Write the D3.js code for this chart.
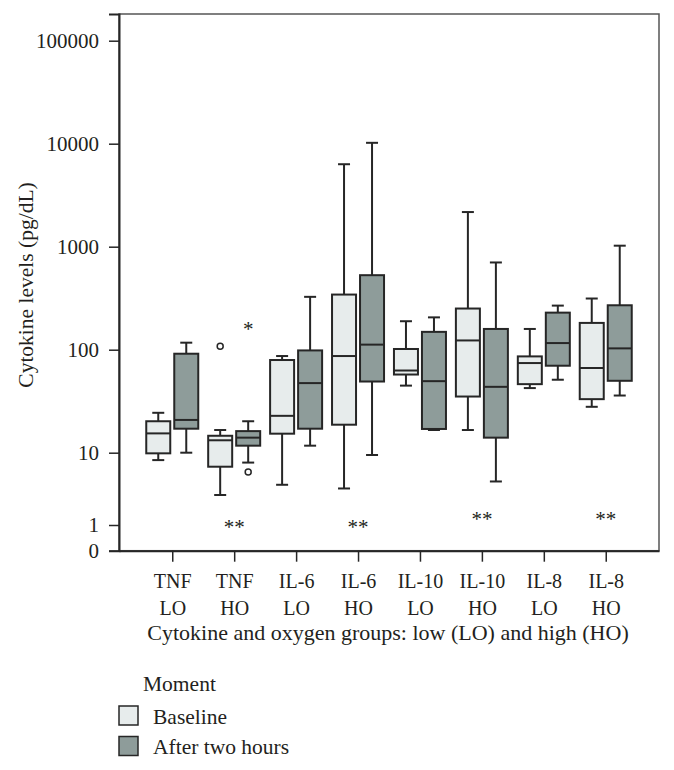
<!DOCTYPE html>
<html>
<head>
<meta charset="utf-8">
<script src="https://cdn.jsdelivr.net/npm/d3@7"></script>
<style>
  body { margin: 0; background: #fff; }
  svg text { font-family: "Liberation Serif", "DejaVu Serif", serif !important; fill: #231f20; }
</style>
</head>
<body>
<svg id="chart" width="674" height="770"></svg>
<script>
// groups on the x axis (two line labels)
var cytokines = ["TNF", "TNF", "IL-6", "IL-6", "IL-10", "IL-10", "IL-8", "IL-8"];
var oxygen = ["LO", "HO", "LO", "HO", "LO", "HO", "LO", "HO"];
var moments = ["Baseline", "After two hours"];
var yTicks = [0, 1, 10, 100, 1000, 10000, 100000];

// baseline box stats (pg/dL)
var baseMin = [7.9, 2.6, 3.6, 3.2, 44.8, 16.6, 42.4, 27.9];
var baseQ1  = [9.8, 6.4, 15.3, 18.7, 57.4, 35.1, 46.3, 33.1];
var baseMed = [15.4, 13.2, 22.8, 86.8, 62.8, 123, 74.2, 66.4];
var baseQ3  = [20.2, 14.6, 79.4, 343, 101.6, 251, 86.1, 182];
var baseMax = [24.4, 16.6, 86.8, 6320, 189, 2170, 159, 314];

// after two hours box stats (pg/dL)
var afterMin = [10, 7.3, 11.7, 9.3, 16.6, 4.0, 51.1, 35.9];
var afterQ1  = [17.1, 11.7, 17.1, 49.1, 17.0, 14.0, 69.9, 49.9];
var afterMed = [20.8, 14.0, 47.4, 112, 49.5, 43.6, 116, 103];
var afterQ3  = [91.4, 16.2, 98.4, 529, 149, 159, 229, 270];
var afterMax = [117, 20.2, 326, 10200, 206, 703, 268, 1023];

// outliers: group index, moment index, value, marker
var outGroup = [1, 1, 1];
var outMoment = [0, 1, 1];
var outValue = [108, 5.4, 172];
var outMark = ["circle", "circle", "star"];

// significance marks (**) under groups
var sigGroup = [1, 3, 5, 7];
var sigValue = [1.05, 1.05, 1.36, 1.36];

var colors = ["#e7ecec", "#8e9c9a"],
    stroke = "#262626",
    fontSize = 21,
    serif = "'Liberation Serif', 'DejaVu Serif', serif";

var margin = { top: 14, left: 119 },
    width = 540,
    height = 536.7,
    boxW = 24,
    capW = 12,
    offset = 14;

var svg = d3.select("#chart").attr("font-family", serif);
var g = svg.append("g").attr("transform", "translate(" + margin.left + "," + margin.top + ")");

// y: log above 10, compressed log between 1 and 10, linear 0..1
var yHigh = d3.scaleLog().domain([10, 100000]).range([438.7, 26.7]),
    yMid = d3.scaleLog().domain([1, 10]).range([511, 438.7]),
    yLow = d3.scaleLinear().domain([0, 1]).range([height, 511]);
var y = function (v) { return v >= 10 ? yHigh(v) : v >= 1 ? yMid(v) : yLow(v); };
y.copy = function () { return y; };
y.range = function () { return [height, 0]; };
y.domain = function () { return [0, yHigh.invert(0)]; };

var x = d3.scalePoint().domain(d3.range(cytokines.length)).range([0, width]).padding(0.86);

// frame
g.append("rect")
    .attr("width", width).attr("height", height)
    .attr("fill", "none").attr("stroke", "#555").attr("stroke-width", 1.5);

// flatten box stats
var boxes = [];
cytokines.forEach(function (c, i) {
    boxes.push({ i: i, m: 0, min: baseMin[i], q1: baseQ1[i], med: baseMed[i], q3: baseQ3[i], max: baseMax[i] });
    boxes.push({ i: i, m: 1, min: afterMin[i], q1: afterQ1[i], med: afterMed[i], q3: afterQ3[i], max: afterMax[i] });
});
var cx = function (i, m) { return x(i) + (m === 0 ? -offset : offset); };

var bg = g.selectAll(".box").data(boxes).enter().append("g").attr("class", "box");

bg.append("line")
    .attr("x1", function (d) { return cx(d.i, d.m); })
    .attr("x2", function (d) { return cx(d.i, d.m); })
    .attr("y1", function (d) { return y(d.max); })
    .attr("y2", function (d) { return y(d.min); })
    .attr("stroke", stroke).attr("stroke-width", 2);

["max", "min"].forEach(function (k) {
    bg.append("line")
        .attr("x1", function (d) { return cx(d.i, d.m) - capW / 2; })
        .attr("x2", function (d) { return cx(d.i, d.m) + capW / 2; })
        .attr("y1", function (d) { return y(d[k]); })
        .attr("y2", function (d) { return y(d[k]); })
        .attr("stroke", stroke).attr("stroke-width", 2);
});

bg.append("rect")
    .attr("x", function (d) { return cx(d.i, d.m) - boxW / 2; })
    .attr("y", function (d) { return y(d.q3); })
    .attr("width", boxW)
    .attr("height", function (d) { return y(d.q1) - y(d.q3); })
    .attr("fill", function (d) { return colors[d.m]; })
    .attr("stroke", stroke).attr("stroke-width", 2);

bg.append("line")
    .attr("x1", function (d) { return cx(d.i, d.m) - boxW / 2; })
    .attr("x2", function (d) { return cx(d.i, d.m) + boxW / 2; })
    .attr("y1", function (d) { return y(d.med); })
    .attr("y2", function (d) { return y(d.med); })
    .attr("stroke", stroke).attr("stroke-width", 2);

// outliers
outValue.forEach(function (v, k) {
    var px = cx(outGroup[k], outMoment[k]), py = y(v);
    if (outMark[k] === "circle") {
        g.append("circle").attr("cx", px).attr("cy", py).attr("r", 3)
            .attr("fill", "#fff").attr("stroke", stroke).attr("stroke-width", 1.5);
    } else {
        g.append("text").attr("x", px).attr("y", py + 10.5)
            .attr("text-anchor", "middle").style("font-size", fontSize + "px").text("*");
    }
});

// significance
g.selectAll(".sig").data(sigGroup).enter().append("text")
    .attr("class", "sig")
    .attr("x", function (d) { return x(d); })
    .attr("y", function (d, k) { return y(sigValue[k]) + 10.5; })
    .attr("text-anchor", "middle")
    .style("font-size", fontSize + "px")
    .text("**");

// axes
var yAxis = g.append("g").call(d3.axisLeft(y).tickValues(yTicks).tickFormat(d3.format("d")).tickSize(10).tickPadding(10))
    .attr("font-family", serif);
yAxis.select(".domain").attr("stroke", stroke).attr("stroke-width", 2);
yAxis.selectAll(".tick line").attr("stroke", stroke).attr("stroke-width", 1.5);
yAxis.selectAll("text").style("font-size", fontSize + "px").attr("fill", "#231f20");

var xAxis = g.append("g").attr("transform", "translate(0," + height + ")")
    .call(d3.axisBottom(x).tickSize(11).tickSizeOuter(0))
    .attr("font-family", serif);
xAxis.select(".domain").attr("stroke", stroke).attr("stroke-width", 2);
xAxis.selectAll(".tick line").attr("stroke", stroke).attr("stroke-width", 1.5);
// two-line labels as separate texts so they do not share one box
xAxis.selectAll(".tick text").remove();
xAxis.selectAll(".tick").each(function (d) {
    var t = d3.select(this);
    t.append("text").attr("y", 37.5).attr("text-anchor", "middle")
        .style("font-size", "20px").text(cytokines[d]);
    t.append("text").attr("y", 64).attr("text-anchor", "middle")
        .style("font-size", "20px").text(oxygen[d]);
});

// axis titles
svg.append("text")
    .attr("transform", "translate(33," + (margin.top + 271) + ") rotate(-90)")
    .attr("text-anchor", "middle").style("font-size", "21.5px")
    .text("Cytokine levels (pg/dL)");

svg.append("text")
    .attr("x", margin.left + width / 2 - 1).attr("y", 639.5)
    .attr("text-anchor", "middle").style("font-size", "22px")
    .text("Cytokine and oxygen groups: low (LO) and high (HO)");

// legend
var legend = svg.append("g");
legend.append("text").attr("x", 143).attr("y", 690.5).style("font-size", "21.5px").text("Moment");
var li = legend.selectAll(".item").data(moments).enter().append("g").attr("class", "item")
    .attr("transform", function (d, k) { return "translate(119," + (706 + k * 30.5) + ")"; });
li.append("rect").attr("width", 19).attr("height", 19)
    .attr("fill", function (d, k) { return colors[k]; })
    .attr("stroke", stroke).attr("stroke-width", 1.5);
li.append("text").attr("x", 34).attr("y", 17.5).style("font-size", "21.5px").text(function (d) { return d; });
</script>
</body>
</html>
